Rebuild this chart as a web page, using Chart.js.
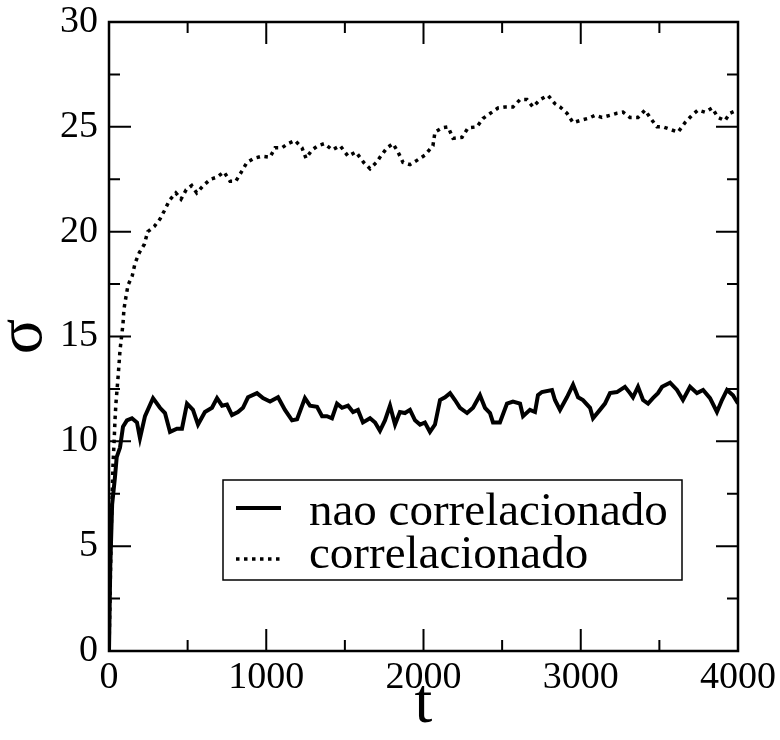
<!DOCTYPE html>
<html>
<head>
<meta charset="utf-8">
<script src="https://cdn.jsdelivr.net/npm/chart.js@4"></script>
<style>
body { margin: 0; background: #fff; }
canvas { display: block; }
</style>
</head>
<body>
<canvas id="sigmaChart" width="780" height="740"></canvas>
<script>
// data

const tNao = [0, 8, 20, 38, 49, 70, 89, 114, 146, 178, 197, 229, 280, 324, 356, 388, 432, 464, 496, 534, 566, 610, 655, 687, 719, 750, 782, 820, 852, 884, 941, 979, 1024, 1075, 1119, 1164, 1196, 1246, 1278, 1323, 1355, 1386, 1418, 1450, 1482, 1520, 1552, 1583, 1615, 1660, 1692, 1723, 1755, 1787, 1819, 1850, 1882, 1914, 1946, 1978, 2009, 2041, 2073, 2105, 2137, 2169, 2200, 2232, 2277, 2315, 2359, 2391, 2423, 2442, 2486, 2531, 2569, 2614, 2633, 2677, 2709, 2728, 2753, 2817, 2836, 2868, 2912, 2951, 2983, 3014, 3059, 3078, 3122, 3154, 3186, 3230, 3281, 3313, 3332, 3364, 3396, 3428, 3459, 3491, 3517, 3568, 3612, 3650, 3695, 3739, 3778, 3822, 3866, 3898, 3930, 3968, 4000];
const sigmaNao = [0, 4, 7, 8.3, 9.25, 9.7, 10.7, 11.0, 11.1, 10.9, 10.15, 11.2, 12.06, 11.6, 11.35, 10.45, 10.6, 10.6, 11.8, 11.5, 10.8, 11.4, 11.6, 12.06, 11.7, 11.75, 11.25, 11.4, 11.6, 12.1, 12.3, 12.06, 11.9, 12.1, 11.5, 11.0, 11.05, 12.06, 11.7, 11.65, 11.2, 11.2, 11.1, 11.8, 11.6, 11.7, 11.4, 11.5, 10.9, 11.1, 10.9, 10.5, 11.0, 11.7, 10.8, 11.4, 11.35, 11.5, 11.0, 10.8, 10.9, 10.45, 10.8, 11.97, 12.1, 12.3, 11.97, 11.6, 11.35, 11.6, 12.2, 11.6, 11.35, 10.9, 10.9, 11.8, 11.9, 11.8, 11.2, 11.5, 11.4, 12.2, 12.35, 12.45, 11.97, 11.5, 12.1, 12.7, 12.1, 11.97, 11.6, 11.1, 11.5, 11.8, 12.3, 12.35, 12.6, 12.3, 12.1, 12.6, 11.97, 11.8, 12.06, 12.3, 12.6, 12.8, 12.45, 11.97, 12.6, 12.3, 12.45, 12.06, 11.4, 11.97, 12.45, 12.2, 11.8];

const tCorr = [0, 15, 25, 32, 38, 44, 51, 58, 64, 70, 80, 89, 95, 108, 121, 148, 166, 193, 225, 246, 288, 324, 352, 385, 425, 458, 491, 526, 558, 600, 645, 687, 731, 770, 806, 846, 877, 922, 973, 1024, 1056, 1100, 1138, 1183, 1227, 1253, 1291, 1329, 1370, 1420, 1470, 1520, 1570, 1620, 1660, 1700, 1723, 1768, 1806, 1838, 1870, 1914, 1958, 2009, 2060, 2073, 2118, 2156, 2188, 2245, 2283, 2340, 2378, 2436, 2474, 2518, 2569, 2614, 2658, 2696, 2741, 2792, 2836, 2868, 2912, 2951, 2995, 3046, 3091, 3135, 3186, 3230, 3269, 3313, 3364, 3409, 3440, 3485, 3523, 3580, 3619, 3663, 3707, 3746, 3790, 3835, 3873, 3917, 3949, 3994];
const sigmaCorr = [0, 6, 8.8, 9.9, 11.0, 11.8, 12.45, 13.1, 13.7, 14.35, 15.0, 15.6, 16.3, 16.9, 17.45, 17.9, 18.5, 19.0, 19.4, 20.0, 20.25, 20.6, 21.0, 21.5, 21.85, 21.55, 22.0, 22.2, 21.85, 22.2, 22.5, 22.6, 22.85, 22.4, 22.4, 22.9, 23.3, 23.5, 23.6, 23.55, 24.0, 24.0, 24.2, 24.35, 24.0, 23.5, 23.9, 24.1, 24.2, 23.9, 24.1, 23.6, 23.8, 23.3, 23.0, 23.3, 23.55, 24.0, 24.2, 23.8, 23.3, 23.2, 23.4, 23.65, 24.1, 24.75, 24.95, 25.0, 24.45, 24.5, 24.95, 25.0, 25.4, 25.7, 25.9, 25.95, 25.95, 26.3, 26.3, 25.95, 26.3, 26.5, 26.1, 25.95, 25.65, 25.2, 25.3, 25.4, 25.55, 25.45, 25.55, 25.65, 25.7, 25.45, 25.45, 25.8, 25.45, 25.0, 25.0, 24.85, 24.75, 25.2, 25.55, 25.8, 25.7, 25.9, 25.45, 25.3, 25.65, 25.8];

const xTicks = [0, 1000, 2000, 3000, 4000];
const yTicks = [0, 5, 10, 15, 20, 25, 30];
const seriesLabels = ["nao correlacionado", "correlacionado"];

const serif = "'Liberation Serif', 'DejaVu Serif', serif";
Chart.defaults.font.family = serif;
Chart.defaults.color = "#000";

// box frame with inward ticks on all four sides
const frameTicks = {
  id: "frameTicks",
  afterDatasetsDraw(chart) {
    const { ctx, chartArea: a, scales: { x, y } } = chart;
    ctx.save();
    ctx.strokeStyle = "#000";
    ctx.lineWidth = 2;
    ctx.beginPath();
    for (let v = 0; v <= 4000; v += 500) {
      const px = x.getPixelForValue(v);
      const len = v % 1000 === 0 ? 22 : 11;
      ctx.moveTo(px, a.bottom); ctx.lineTo(px, a.bottom - len);
      ctx.moveTo(px, a.top); ctx.lineTo(px, a.top + len);
    }
    for (let v = 0; v <= 30; v += 2.5) {
      const py = y.getPixelForValue(v);
      const len = v % 5 === 0 ? 22 : 11;
      ctx.moveTo(a.left, py); ctx.lineTo(a.left + len, py);
      ctx.moveTo(a.right, py); ctx.lineTo(a.right - len, py);
    }
    ctx.stroke();
    ctx.lineWidth = 2.5;
    ctx.strokeRect(a.left, a.top, a.right - a.left, a.bottom - a.top);
    ctx.restore();
  }
};

// legend box inside the plot
const boxLegend = {
  id: "boxLegend",
  afterDraw(chart) {
    const ctx = chart.ctx;
    const ds = chart.data.datasets;
    ctx.save();
    ctx.fillStyle = "#fff";
    ctx.fillRect(223, 480, 459, 100);
    ctx.strokeStyle = "#000";
    ctx.lineWidth = 1.5;
    ctx.strokeRect(223, 480, 459, 100);
    const rows = [508, 559];
    const baselines = [525, 568];
    ds.forEach((d, i) => {
      ctx.beginPath();
      ctx.lineWidth = d.borderWidth;
      ctx.setLineDash(d.borderDash || []);
      ctx.moveTo(236, rows[i]);
      ctx.lineTo(281, rows[i]);
      ctx.stroke();
      ctx.setLineDash([]);
      ctx.fillStyle = "#000";
      ctx.font = "47px " + serif;
      ctx.textBaseline = "alphabetic";
      ctx.fillText(d.label, 309, baselines[i]);
    });
    ctx.restore();
  }
};

new Chart("sigmaChart", {
  type: "line",
  data: {
    datasets: [{
      label: seriesLabels[0],
      data: tNao.map((t, i) => ({ x: t, y: sigmaNao[i] })),
      borderColor: "#000",
      borderWidth: 4,
      pointRadius: 0,
      fill: false,
      tension: 0
    }, {
      label: seriesLabels[1],
      data: tCorr.map((t, i) => ({ x: t, y: sigmaCorr[i] })),
      borderColor: "#000",
      borderWidth: 3.5,
      borderDash: [3.5, 4.5],
      pointRadius: 0,
      fill: false,
      tension: 0
    }]
  },
  options: {
    responsive: false,
    animation: false,
    layout: { padding: { top: 22, right: 42, left: 0, bottom: 0 } },
    plugins: { legend: { display: false }, tooltip: { enabled: false } },
    scales: {
      x: {
        type: "linear",
        min: 0,
        max: 4000,
        grid: { display: false, drawTicks: false },
        border: { display: false },
        afterBuildTicks: s => { s.ticks = xTicks.map(v => ({ value: v })); },
        afterFit: s => { s.height = 89; s.paddingLeft = 0; s.paddingRight = 0; },
        ticks: { font: { size: 38 }, padding: 4, maxRotation: 0, autoSkip: false, callback: v => String(v) },
        title: { display: true, text: "t", font: { size: 64, lineHeight: 1 }, padding: { top: 0, bottom: 3 } }
      },
      y: {
        min: 0,
        max: 30,
        grid: { display: false, drawTicks: false },
        border: { display: false },
        afterBuildTicks: s => { s.ticks = yTicks.map(v => ({ value: v })); },
        afterFit: s => { s.width = 109; s.paddingTop = 0; s.paddingBottom = 0; },
        ticks: { font: { size: 38 }, padding: 11, autoSkip: false, callback: v => String(v) },
        title: { display: true, text: "σ", font: { size: 66, lineHeight: 0.6 }, padding: { top: 4, bottom: 0 } }
      }
    }
  },
  plugins: [frameTicks, boxLegend]
});
</script>
</body>
</html>
